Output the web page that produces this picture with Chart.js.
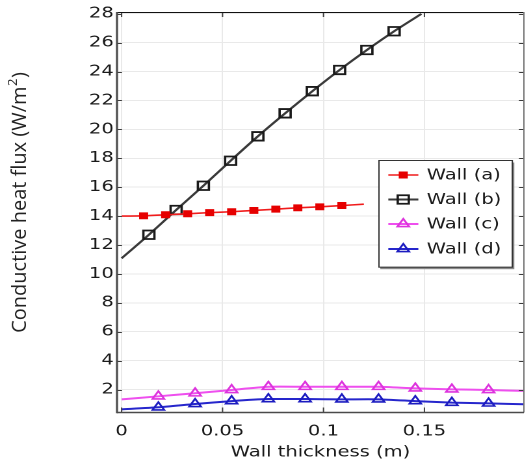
<!DOCTYPE html>
<html>
<head>
<meta charset="utf-8">
<script src="https://cdn.jsdelivr.net/npm/chart.js@4.4.1/dist/chart.umd.min.js"></script>
<style>
  html, body { margin: 0; padding: 0; background: #fff; overflow: hidden; }
  #wrap { position: relative; width: 526px; height: 461px; overflow: hidden; background: #fff; }
  /* the plot is laid out narrow and widened horizontally */
  #stage { position: absolute; left: 0; top: 0; width: 405px; height: 461px;
           transform: scaleX(1.3); transform-origin: 0 0; }
</style>
</head>
<body>
<div id="wrap"><div id="stage">
  <canvas id="c" width="405" height="461" style="width:405px;height:461px"></canvas>
</div></div>
<script>
// Horizontal widening applied to the plot by CSS
const STRETCH = 1.3;

// Wall thickness samples (m)
const thicknessA = [0, 0.0109, 0.0218, 0.0327, 0.0436, 0.0545, 0.0655, 0.0764, 0.0873, 0.0982, 0.1091, 0.12];
const thicknessB = [0, 0.0135, 0.027, 0.0405, 0.054, 0.0675, 0.081, 0.0945, 0.108, 0.1215, 0.135, 0.1485];
const thicknessCD = [0, 0.0182, 0.0364, 0.0545, 0.0727, 0.0909, 0.1091, 0.1273, 0.1455, 0.1636, 0.1818, 0.2];

// Conductive heat flux (W/m^2)
const fluxWallA = [14.00, 14.02, 14.09, 14.16, 14.24, 14.30, 14.39, 14.48, 14.57, 14.64, 14.73, 14.82];
const fluxWallB = [11.08, 12.71, 14.42, 16.10, 17.83, 19.52, 21.11, 22.64, 24.11, 25.49, 26.79, 27.99];
const fluxWallC = [1.32, 1.53, 1.74, 1.97, 2.19, 2.19, 2.19, 2.19, 2.08, 2.01, 1.97, 1.90];
const fluxWallD = [0.63, 0.77, 1.00, 1.20, 1.34, 1.34, 1.32, 1.32, 1.20, 1.09, 1.04, 0.98];

const seriesLabels = ['Wall (a)', 'Wall (b)', 'Wall (c)', 'Wall (d)'];

// Axis ticks
const xTickValues = [0, 0.05, 0.1, 0.15];
const xTickLabels = ['0', '0.05', '0.1', '0.15'];
const yTickValues = [2, 4, 6, 8, 10, 12, 14, 16, 18, 20, 22, 24, 26, 28];
const yTickLabels = ['2', '4', '6', '8', '10', '12', '14', '16', '18', '20', '22', '24', '26', '28'];

const xTitle = 'Wall thickness (m)';
const yTitleMain = 'Conductive heat flux (W/m';
const yTitleSup = '2';
const yTitleEnd = ')';

const TICK_FONT = '"DejaVu Sans", sans-serif';
const TEXT = '#1a1a1a';

function pts(xs, ys) { return xs.map((x, i) => ({ x: x, y: ys[i] })); }

// line + marker appearance of each curve
const looks = [
  { line: '#f01c1c', width: 1.6, style: 'rect', r: 4.2, fill: '#e60000', stroke: '#e60000', bw: 1 },
  { line: '#3a3a3a', width: 2, style: 'rect', r: 6, fill: 'rgba(0,0,0,0)', stroke: '#1a1a1a', bw: 1.8 },
  { line: '#ee4fee', width: 2, style: 'triangle', r: 5.2, fill: 'rgba(0,0,0,0)', stroke: '#dd33dd', bw: 1.6 },
  { line: '#2626cc', width: 2, style: 'triangle', r: 5.2, fill: 'rgba(0,0,0,0)', stroke: '#1c1cc0', bw: 1.6 }
];
const seriesData = [pts(thicknessA, fluxWallA), pts(thicknessB, fluxWallB),
                    pts(thicknessCD, fluxWallC), pts(thicknessCD, fluxWallD)];

const datasets = seriesData.map((d, i) => {
  const lk = looks[i];
  return {
    label: seriesLabels[i],
    data: d,
    borderColor: lk.line,
    borderWidth: lk.width,
    backgroundColor: lk.fill,
    pointStyle: lk.style,
    // markers sit on the interior samples only
    pointRadius: c => (c.dataIndex === 0 || c.dataIndex === d.length - 1) ? 0 : lk.r,
    pointBackgroundColor: lk.fill,
    pointBorderColor: lk.stroke,
    pointBorderWidth: lk.bw,
    tension: 0.2,
    fill: false
  };
});

function drawMarker(ctx, lk, x, y) {
  ctx.beginPath();
  if (lk.style === 'rect') {
    const h = lk.r * Math.SQRT1_2;
    ctx.rect(x - h, y - h, 2 * h, 2 * h);
  } else {
    for (let k = 0; k < 3; k++) {
      const a = k * 2 * Math.PI / 3;
      const px = x + Math.sin(a) * lk.r, py = y - Math.cos(a) * lk.r;
      if (k) ctx.lineTo(px, py); else ctx.moveTo(px, py);
    }
    ctx.closePath();
  }
  ctx.fillStyle = lk.fill; ctx.fill();
  ctx.strokeStyle = lk.stroke; ctx.lineWidth = lk.bw; ctx.stroke();
}

// inward tick marks and the box round the plot
const framePlugin = {
  id: 'frame',
  afterDatasetsDraw(chart) {
    const { ctx, chartArea: a, scales } = chart;
    const xs = scales.x, ys = scales.y;
    ctx.save();
    ctx.lineWidth = 1;
    ctx.strokeStyle = '#3c3c3c';
    const seg = (x1, y1, x2, y2) => { ctx.beginPath(); ctx.moveTo(x1, y1); ctx.lineTo(x2, y2); ctx.stroke(); };
    xTickValues.forEach(v => {
      const px = xs.getPixelForValue(v);
      seg(px, a.bottom, px, a.bottom - 5);
      seg(px, a.top, px, a.top + 5);
    });
    yTickValues.forEach(v => {
      const py = Math.round(ys.getPixelForValue(v)) + 0.5;
      seg(a.left, py, a.left + 5 / STRETCH, py);
      seg(a.right, py, a.right - 5 / STRETCH, py);
    });
    // top and right edges
    ctx.strokeStyle = '#111';
    seg(a.left, a.top + 0.5, a.right, a.top + 0.5);
    ctx.strokeStyle = '#777';
    seg(a.right, a.top, a.right, a.bottom);
    // left and bottom axis lines
    ctx.strokeStyle = '#4a4a4a';
    ctx.lineWidth = 1.6;
    seg(a.left, a.top, a.left, a.bottom + 0.8);
    seg(a.left, a.bottom, a.right, a.bottom);
    ctx.restore();
  }
};

// legend box inside the plot and the vertical axis title
const overlayPlugin = {
  id: 'overlay',
  afterDraw(chart) {
    const ctx = chart.ctx;
    ctx.save();
    // legend
    const bx = 291, by = 160, bw = 102.6, bh = 106.7;
    ctx.fillStyle = '#8a8a8a';
    ctx.fillRect(bx + 2 / STRETCH, by + 2.5, bw + 0.5, bh);
    ctx.fillStyle = '#fff';
    ctx.fillRect(bx, by, bw, bh);
    ctx.strokeStyle = '#333';
    ctx.lineWidth = 1;
    ctx.strokeRect(bx + 0.5, by + 0.5, bw, bh);
    const rowY = [175, 199.5, 224, 249];
    const lx0 = 298.7, lx1 = 321.8, mx = 310.2, tx = 328.2;
    chart.data.datasets.forEach((ds, i) => {
      const lk = looks[i], y = rowY[i];
      ctx.strokeStyle = lk.line;
      ctx.lineWidth = lk.width;
      ctx.beginPath(); ctx.moveTo(lx0, y); ctx.lineTo(lx1, y); ctx.stroke();
      drawMarker(ctx, lk, mx, y);
      ctx.fillStyle = TEXT;
      ctx.font = '15px ' + TICK_FONT;
      ctx.textAlign = 'left';
      ctx.textBaseline = 'middle';
      ctx.fillText(ds.label, tx, y + 0.5);
    });
    ctx.restore();

    // y title, kept at its natural width
    ctx.save();
    ctx.translate(20 / STRETCH, 203);
    ctx.scale(1 / STRETCH, 1);
    ctx.rotate(-Math.PI / 2);
    ctx.fillStyle = '#222';
    ctx.textBaseline = 'middle';
    ctx.textAlign = 'left';
    const mainFont = '20px "Open Sans", sans-serif';
    const supFont = '13px "Open Sans", sans-serif';
    ctx.font = mainFont;
    const w1 = ctx.measureText(yTitleMain).width;
    const w3 = ctx.measureText(yTitleEnd).width;
    ctx.font = supFont;
    const w2 = ctx.measureText(yTitleSup).width;
    let x0 = -(w1 + w2 + w3) / 2;
    ctx.font = mainFont;
    ctx.fillText(yTitleMain, x0, 0);
    ctx.font = supFont;
    ctx.fillText(yTitleSup, x0 + w1 + 0.5, -7);
    ctx.font = mainFont;
    ctx.fillText(yTitleEnd, x0 + w1 + w2 + 1, 0);
    ctx.restore();
  }
};

new Chart(document.getElementById('c'), {
  type: 'line',
  data: { datasets: datasets },
  options: {
    responsive: false,
    maintainAspectRatio: false,
    devicePixelRatio: 2,
    animation: false,
    events: [],
    layout: { padding: { left: 65.9, right: 2, top: 12, bottom: 0 } },
    plugins: { legend: { display: false }, tooltip: { enabled: false } },
    scales: {
      x: {
        type: 'linear',
        min: -0.0023,
        max: 0.1993,
        afterBuildTicks: s => { s.ticks = xTickValues.map(v => ({ value: v })); },
        ticks: {
          callback: (v) => xTickLabels[xTickValues.indexOf(v)],
          font: { family: TICK_FONT, size: 15 },
          color: TEXT,
          padding: 10,
          maxRotation: 0,
          autoSkip: false
        },
        grid: { color: '#e9e9e9', lineWidth: 1, drawTicks: false },
        border: { display: false },
        title: {
          display: true,
          text: xTitle,
          font: { family: TICK_FONT, size: 15 },
          color: TEXT,
          padding: { top: -7, bottom: -0.5 }
        }
      },
      y: {
        type: 'linear',
        min: 0.41,
        max: 28.12,
        afterBuildTicks: s => { s.ticks = yTickValues.map(v => ({ value: v })); },
        ticks: {
          callback: (v) => yTickLabels[yTickValues.indexOf(v)],
          font: { family: TICK_FONT, size: 15 },
          color: TEXT,
          padding: 2.5,
          autoSkip: false
        },
        grid: { color: '#e9e9e9', lineWidth: 1, drawTicks: false },
        border: { display: false }
      }
    }
  },
  plugins: [framePlugin, overlayPlugin]
});
</script>
</body>
</html>
